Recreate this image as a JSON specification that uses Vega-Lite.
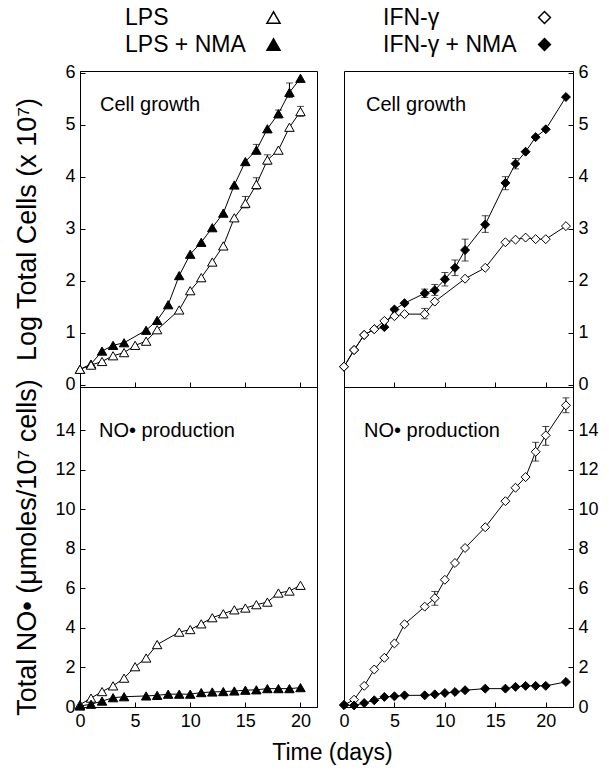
{
  "$schema": "https://vega.github.io/schema/vega-lite/v6.json",
  "padding": {"left": 12, "top": 5, "right": 5, "bottom": 5},
  "config": {
    "font": "Liberation Sans",
    "view": {"stroke": "black", "strokeWidth": 1},
    "axis": {"domainColor": "black", "tickColor": "black", "labelColor": "black", "titleColor": "black", "labelFontSize": 18, "titleFontSize": 27, "titleFontWeight": "normal", "grid": false, "tickWidth": 1, "domainWidth": 1, "tickSize": -5, "labelPadding": 10, "labelOverlap": false, "labelBound": false, "labelFlush": false},
    "title": {"fontSize": 20, "fontWeight": "normal", "color": "black", "anchor": "start", "frame": "group"},
    "legend": {"labelFontSize": 23, "labelColor": "black", "labelLimit": 300}
  },
  "datasets": {
    "pts": [
      {"p": "A", "s": "LPS + NMA", "d": 0, "v": 0.3},
      {"p": "A", "s": "LPS + NMA", "d": 1, "v": 0.4},
      {"p": "A", "s": "LPS + NMA", "d": 2, "v": 0.65},
      {"p": "A", "s": "LPS + NMA", "d": 3, "v": 0.76},
      {"p": "A", "s": "LPS + NMA", "d": 4, "v": 0.81},
      {"p": "A", "s": "LPS + NMA", "d": 6, "v": 1.05},
      {"p": "A", "s": "LPS + NMA", "d": 7, "v": 1.24},
      {"p": "A", "s": "LPS + NMA", "d": 8, "v": 1.54},
      {"p": "A", "s": "LPS + NMA", "d": 9, "v": 2.1},
      {"p": "A", "s": "LPS + NMA", "d": 10, "v": 2.51},
      {"p": "A", "s": "LPS + NMA", "d": 11, "v": 2.74},
      {"p": "A", "s": "LPS + NMA", "d": 12, "v": 3.02},
      {"p": "A", "s": "LPS + NMA", "d": 13, "v": 3.3},
      {"p": "A", "s": "LPS + NMA", "d": 14, "v": 3.84},
      {"p": "A", "s": "LPS + NMA", "d": 15, "v": 4.29},
      {"p": "A", "s": "LPS + NMA", "d": 16, "v": 4.51, "lo": 4.44, "hi": 4.62},
      {"p": "A", "s": "LPS + NMA", "d": 17, "v": 4.92},
      {"p": "A", "s": "LPS + NMA", "d": 18, "v": 5.21, "lo": 5.13, "hi": 5.28},
      {"p": "A", "s": "LPS + NMA", "d": 19, "v": 5.62, "lo": 5.52, "hi": 5.8},
      {"p": "A", "s": "LPS + NMA", "d": 20, "v": 5.89},
      {"p": "A", "s": "LPS", "d": 0, "v": 0.3},
      {"p": "A", "s": "LPS", "d": 1, "v": 0.38},
      {"p": "A", "s": "LPS", "d": 2, "v": 0.45},
      {"p": "A", "s": "LPS", "d": 3, "v": 0.56},
      {"p": "A", "s": "LPS", "d": 4, "v": 0.62},
      {"p": "A", "s": "LPS", "d": 5, "v": 0.76},
      {"p": "A", "s": "LPS", "d": 6, "v": 0.84},
      {"p": "A", "s": "LPS", "d": 7, "v": 1.06},
      {"p": "A", "s": "LPS", "d": 9, "v": 1.44},
      {"p": "A", "s": "LPS", "d": 10, "v": 1.81},
      {"p": "A", "s": "LPS", "d": 11, "v": 2.06},
      {"p": "A", "s": "LPS", "d": 12, "v": 2.36},
      {"p": "A", "s": "LPS", "d": 13, "v": 2.67},
      {"p": "A", "s": "LPS", "d": 14, "v": 3.21},
      {"p": "A", "s": "LPS", "d": 15, "v": 3.49, "lo": 3.4, "hi": 3.62},
      {"p": "A", "s": "LPS", "d": 16, "v": 3.85, "lo": 3.76, "hi": 3.98},
      {"p": "A", "s": "LPS", "d": 17, "v": 4.32, "lo": 4.24, "hi": 4.42},
      {"p": "A", "s": "LPS", "d": 18, "v": 4.51},
      {"p": "A", "s": "LPS", "d": 19, "v": 4.95},
      {"p": "A", "s": "LPS", "d": 20, "v": 5.25, "lo": 5.16, "hi": 5.35},

      {"p": "B", "s": "IFN-γ + NMA", "d": 0, "v": 0.35},
      {"p": "B", "s": "IFN-γ + NMA", "d": 1, "v": 0.67},
      {"p": "B", "s": "IFN-γ + NMA", "d": 2, "v": 0.96},
      {"p": "B", "s": "IFN-γ + NMA", "d": 3, "v": 1.07},
      {"p": "B", "s": "IFN-γ + NMA", "d": 4, "v": 1.11},
      {"p": "B", "s": "IFN-γ + NMA", "d": 5, "v": 1.45},
      {"p": "B", "s": "IFN-γ + NMA", "d": 6, "v": 1.57},
      {"p": "B", "s": "IFN-γ + NMA", "d": 8, "v": 1.76, "lo": 1.68, "hi": 1.84},
      {"p": "B", "s": "IFN-γ + NMA", "d": 9, "v": 1.82, "lo": 1.72, "hi": 1.93},
      {"p": "B", "s": "IFN-γ + NMA", "d": 10, "v": 2.03, "lo": 1.9, "hi": 2.16},
      {"p": "B", "s": "IFN-γ + NMA", "d": 11, "v": 2.25, "lo": 2.1, "hi": 2.4},
      {"p": "B", "s": "IFN-γ + NMA", "d": 12, "v": 2.59, "lo": 2.38, "hi": 2.8},
      {"p": "B", "s": "IFN-γ + NMA", "d": 14, "v": 3.08, "lo": 2.93, "hi": 3.25},
      {"p": "B", "s": "IFN-γ + NMA", "d": 16, "v": 3.88, "lo": 3.75, "hi": 4.0},
      {"p": "B", "s": "IFN-γ + NMA", "d": 17, "v": 4.25, "lo": 4.15, "hi": 4.35},
      {"p": "B", "s": "IFN-γ + NMA", "d": 18, "v": 4.48},
      {"p": "B", "s": "IFN-γ + NMA", "d": 19, "v": 4.76},
      {"p": "B", "s": "IFN-γ + NMA", "d": 20, "v": 4.91},
      {"p": "B", "s": "IFN-γ + NMA", "d": 22, "v": 5.53},
      {"p": "B", "s": "IFN-γ", "d": 0, "v": 0.35},
      {"p": "B", "s": "IFN-γ", "d": 1, "v": 0.67},
      {"p": "B", "s": "IFN-γ", "d": 2, "v": 0.96},
      {"p": "B", "s": "IFN-γ", "d": 3, "v": 1.07},
      {"p": "B", "s": "IFN-γ", "d": 4, "v": 1.23},
      {"p": "B", "s": "IFN-γ", "d": 5, "v": 1.32},
      {"p": "B", "s": "IFN-γ", "d": 6, "v": 1.36},
      {"p": "B", "s": "IFN-γ", "d": 8, "v": 1.36, "lo": 1.27, "hi": 1.47},
      {"p": "B", "s": "IFN-γ", "d": 9, "v": 1.6},
      {"p": "B", "s": "IFN-γ", "d": 12, "v": 2.04},
      {"p": "B", "s": "IFN-γ", "d": 14, "v": 2.25},
      {"p": "B", "s": "IFN-γ", "d": 16, "v": 2.74},
      {"p": "B", "s": "IFN-γ", "d": 17, "v": 2.79},
      {"p": "B", "s": "IFN-γ", "d": 18, "v": 2.83},
      {"p": "B", "s": "IFN-γ", "d": 19, "v": 2.8},
      {"p": "B", "s": "IFN-γ", "d": 20, "v": 2.8},
      {"p": "B", "s": "IFN-γ", "d": 22, "v": 3.05},

      {"p": "C", "s": "LPS", "d": 0, "v": 0.12},
      {"p": "C", "s": "LPS", "d": 1, "v": 0.45},
      {"p": "C", "s": "LPS", "d": 2, "v": 0.78},
      {"p": "C", "s": "LPS", "d": 3, "v": 1.07},
      {"p": "C", "s": "LPS", "d": 4, "v": 1.46},
      {"p": "C", "s": "LPS", "d": 5, "v": 2.04},
      {"p": "C", "s": "LPS", "d": 6, "v": 2.48},
      {"p": "C", "s": "LPS", "d": 7, "v": 3.16},
      {"p": "C", "s": "LPS", "d": 9, "v": 3.79},
      {"p": "C", "s": "LPS", "d": 10, "v": 3.92},
      {"p": "C", "s": "LPS", "d": 11, "v": 4.21},
      {"p": "C", "s": "LPS", "d": 12, "v": 4.52},
      {"p": "C", "s": "LPS", "d": 13, "v": 4.72},
      {"p": "C", "s": "LPS", "d": 14, "v": 4.92},
      {"p": "C", "s": "LPS", "d": 15, "v": 5.01},
      {"p": "C", "s": "LPS", "d": 16, "v": 5.18},
      {"p": "C", "s": "LPS", "d": 17, "v": 5.31},
      {"p": "C", "s": "LPS", "d": 18, "v": 5.77},
      {"p": "C", "s": "LPS", "d": 19, "v": 5.87},
      {"p": "C", "s": "LPS", "d": 20, "v": 6.16},
      {"p": "C", "s": "LPS + NMA", "d": 0, "v": 0.05},
      {"p": "C", "s": "LPS + NMA", "d": 1, "v": 0.14},
      {"p": "C", "s": "LPS + NMA", "d": 2, "v": 0.3},
      {"p": "C", "s": "LPS + NMA", "d": 3, "v": 0.47},
      {"p": "C", "s": "LPS + NMA", "d": 4, "v": 0.52},
      {"p": "C", "s": "LPS + NMA", "d": 6, "v": 0.56},
      {"p": "C", "s": "LPS + NMA", "d": 7, "v": 0.59},
      {"p": "C", "s": "LPS + NMA", "d": 8, "v": 0.65},
      {"p": "C", "s": "LPS + NMA", "d": 9, "v": 0.65},
      {"p": "C", "s": "LPS + NMA", "d": 10, "v": 0.65},
      {"p": "C", "s": "LPS + NMA", "d": 11, "v": 0.73},
      {"p": "C", "s": "LPS + NMA", "d": 12, "v": 0.76},
      {"p": "C", "s": "LPS + NMA", "d": 13, "v": 0.78},
      {"p": "C", "s": "LPS + NMA", "d": 14, "v": 0.81},
      {"p": "C", "s": "LPS + NMA", "d": 15, "v": 0.85},
      {"p": "C", "s": "LPS + NMA", "d": 16, "v": 0.87},
      {"p": "C", "s": "LPS + NMA", "d": 17, "v": 0.93},
      {"p": "C", "s": "LPS + NMA", "d": 18, "v": 0.93},
      {"p": "C", "s": "LPS + NMA", "d": 19, "v": 0.93},
      {"p": "C", "s": "LPS + NMA", "d": 20, "v": 0.98},

      {"p": "D", "s": "IFN-γ", "d": 0, "v": 0.1},
      {"p": "D", "s": "IFN-γ", "d": 1, "v": 0.37},
      {"p": "D", "s": "IFN-γ", "d": 2, "v": 1.07},
      {"p": "D", "s": "IFN-γ", "d": 3, "v": 1.9},
      {"p": "D", "s": "IFN-γ", "d": 4, "v": 2.49},
      {"p": "D", "s": "IFN-γ", "d": 5, "v": 3.22},
      {"p": "D", "s": "IFN-γ", "d": 6, "v": 4.19},
      {"p": "D", "s": "IFN-γ", "d": 8, "v": 5.08},
      {"p": "D", "s": "IFN-γ", "d": 9, "v": 5.51, "lo": 5.15, "hi": 5.85},
      {"p": "D", "s": "IFN-γ", "d": 10, "v": 6.44},
      {"p": "D", "s": "IFN-γ", "d": 11, "v": 7.29},
      {"p": "D", "s": "IFN-γ", "d": 12, "v": 8.05},
      {"p": "D", "s": "IFN-γ", "d": 14, "v": 9.1},
      {"p": "D", "s": "IFN-γ", "d": 16, "v": 10.42},
      {"p": "D", "s": "IFN-γ", "d": 17, "v": 11.1},
      {"p": "D", "s": "IFN-γ", "d": 18, "v": 11.64},
      {"p": "D", "s": "IFN-γ", "d": 19, "v": 12.92, "lo": 12.45, "hi": 13.4},
      {"p": "D", "s": "IFN-γ", "d": 20, "v": 13.75, "lo": 13.25, "hi": 14.2},
      {"p": "D", "s": "IFN-γ", "d": 22, "v": 15.27, "lo": 14.9, "hi": 15.65},
      {"p": "D", "s": "IFN-γ + NMA", "d": 0, "v": 0.1},
      {"p": "D", "s": "IFN-γ + NMA", "d": 1, "v": 0.08},
      {"p": "D", "s": "IFN-γ + NMA", "d": 2, "v": 0.2},
      {"p": "D", "s": "IFN-γ + NMA", "d": 3, "v": 0.34},
      {"p": "D", "s": "IFN-γ + NMA", "d": 4, "v": 0.51},
      {"p": "D", "s": "IFN-γ + NMA", "d": 5, "v": 0.54},
      {"p": "D", "s": "IFN-γ + NMA", "d": 6, "v": 0.59},
      {"p": "D", "s": "IFN-γ + NMA", "d": 8, "v": 0.59},
      {"p": "D", "s": "IFN-γ + NMA", "d": 9, "v": 0.64},
      {"p": "D", "s": "IFN-γ + NMA", "d": 10, "v": 0.71},
      {"p": "D", "s": "IFN-γ + NMA", "d": 11, "v": 0.76},
      {"p": "D", "s": "IFN-γ + NMA", "d": 12, "v": 0.85},
      {"p": "D", "s": "IFN-γ + NMA", "d": 14, "v": 0.93},
      {"p": "D", "s": "IFN-γ + NMA", "d": 16, "v": 0.93},
      {"p": "D", "s": "IFN-γ + NMA", "d": 17, "v": 1.02},
      {"p": "D", "s": "IFN-γ + NMA", "d": 18, "v": 1.07},
      {"p": "D", "s": "IFN-γ + NMA", "d": 19, "v": 1.07},
      {"p": "D", "s": "IFN-γ + NMA", "d": 20, "v": 1.07},
      {"p": "D", "s": "IFN-γ + NMA", "d": 22, "v": 1.27}
    ]
  },
  "columns": 2,
  "spacing": {"row": 0, "column": 27},
  "bounds": "flush",
  "resolve": {
    "scale": {"shape": "independent", "fill": "independent"},
    "legend": {"shape": "independent", "fill": "independent"}
  },
  "concat": [
    {
      "width": 237, "height": 316,
      "data": {"name": "pts"},
      "transform": [{"filter": "datum.p === 'A'"}],
      "title": {"text": "Cell growth", "offset": -109, "dx": 20},
      "encoding": {
        "x": {"field": "d", "type": "quantitative", "scale": {"domain": [0, 21.5], "nice": false, "zero": false},
              "axis": {"values": [0, 5, 10, 15, 20], "labels": false, "title": null}},
        "y": {"field": "v", "type": "quantitative", "scale": {"domain": [-0.04, 6.03], "nice": false, "zero": false},
              "title": "Log Total Cells (x 10⁷)",
              "axis": {"values": [0, 1, 2, 3, 4, 5, 6], "titleX": -53, "titleBaseline": "middle"}}
      },
      "layer": [
        {"mark": {"type": "line", "color": "black", "strokeWidth": 1}, "encoding": {"detail": {"field": "s"}}},
        {"transform": [{"filter": "isValid(datum.lo)"}], "mark": {"type": "rule", "color": "black", "strokeWidth": 1},
         "encoding": {"y": {"field": "lo", "type": "quantitative", "title": "Log Total Cells (x 10⁷)"}, "y2": {"field": "hi"}}},
        {"transform": [{"filter": "isValid(datum.lo)"}], "mark": {"type": "tick", "orient": "horizontal", "size": 7, "thickness": 1, "color": "black"},
         "encoding": {"y": {"field": "lo", "type": "quantitative", "title": "Log Total Cells (x 10⁷)"}}},
        {"transform": [{"filter": "isValid(datum.lo)"}], "mark": {"type": "tick", "orient": "horizontal", "size": 7, "thickness": 1, "color": "black"},
         "encoding": {"y": {"field": "hi", "type": "quantitative", "title": "Log Total Cells (x 10⁷)"}}},
        {"mark": {"type": "point", "filled": true, "size": 90, "stroke": "black", "strokeWidth": 1, "opacity": 1},
         "encoding": {
           "shape": {"field": "s", "type": "nominal", "scale": {"domain": ["LPS", "LPS + NMA"], "range": ["triangle-up", "triangle-up"]},
                     "legend": {"orient": "none", "legendX": 182, "legendY": -65, "title": null, "labelOffset": -160, "symbolSize": 170, "rowPadding": 3, "padding": 0,
                                "encode": {"symbols": {"update": {"stroke": {"value": "black"}, "strokeWidth": {"value": 1}, "opacity": {"value": 1}}}}}},
           "fill": {"field": "s", "type": "nominal", "scale": {"domain": ["LPS", "LPS + NMA"], "range": ["white", "black"]},
                    "legend": {"orient": "none", "legendX": 182, "legendY": -65, "title": null, "labelOffset": -160, "symbolSize": 170, "rowPadding": 3, "padding": 0,
                               "encode": {"symbols": {"update": {"stroke": {"value": "black"}, "strokeWidth": {"value": 1}, "opacity": {"value": 1}}}}}}
         }}
      ]
    },
    {
      "width": 229, "height": 316,
      "data": {"name": "pts"},
      "transform": [{"filter": "datum.p === 'B'"}],
      "title": {"text": "Cell growth", "offset": -109, "dx": 22},
      "encoding": {
        "x": {"field": "d", "type": "quantitative", "scale": {"domain": [0, 22.7], "nice": false, "zero": false},
              "axis": {"values": [0, 5, 10, 15, 20], "labels": false, "title": null}},
        "y": {"field": "v", "type": "quantitative", "scale": {"domain": [-0.04, 6.03], "nice": false, "zero": false},
              "title": null,
              "axis": {"orient": "right", "values": [0, 1, 2, 3, 4, 5, 6]}}
      },
      "layer": [
        {"mark": {"type": "line", "color": "black", "strokeWidth": 1}, "encoding": {"detail": {"field": "s"}}},
        {"transform": [{"filter": "isValid(datum.lo)"}], "mark": {"type": "rule", "color": "black", "strokeWidth": 1},
         "encoding": {"y": {"field": "lo", "type": "quantitative", "title": null}, "y2": {"field": "hi"}}},
        {"transform": [{"filter": "isValid(datum.lo)"}], "mark": {"type": "tick", "orient": "horizontal", "size": 7, "thickness": 1, "color": "black"},
         "encoding": {"y": {"field": "lo", "type": "quantitative", "title": null}}},
        {"transform": [{"filter": "isValid(datum.lo)"}], "mark": {"type": "tick", "orient": "horizontal", "size": 7, "thickness": 1, "color": "black"},
         "encoding": {"y": {"field": "hi", "type": "quantitative", "title": null}}},
        {"mark": {"type": "point", "filled": true, "size": 80, "stroke": "black", "strokeWidth": 1, "opacity": 1},
         "encoding": {
           "shape": {"field": "s", "type": "nominal", "scale": {"domain": ["IFN-γ", "IFN-γ + NMA"], "range": ["diamond", "diamond"]},
                     "legend": {"orient": "none", "legendX": 189, "legendY": -65, "title": null, "labelOffset": -173, "symbolSize": 140, "rowPadding": 3, "padding": 0,
                                "encode": {"symbols": {"update": {"stroke": {"value": "black"}, "strokeWidth": {"value": 1}, "opacity": {"value": 1}}}}}},
           "fill": {"field": "s", "type": "nominal", "scale": {"domain": ["IFN-γ", "IFN-γ + NMA"], "range": ["white", "black"]},
                    "legend": {"orient": "none", "legendX": 189, "legendY": -65, "title": null, "labelOffset": -173, "symbolSize": 140, "rowPadding": 3, "padding": 0,
                               "encode": {"symbols": {"update": {"stroke": {"value": "black"}, "strokeWidth": {"value": 1}, "opacity": {"value": 1}}}}}}
         }}
      ]
    },
    {
      "width": 237, "height": 320,
      "data": {"name": "pts"},
      "transform": [{"filter": "datum.p === 'C'"}],
      "title": {"text": "NO• production", "offset": -62, "dx": 19},
      "encoding": {
        "x": {"field": "d", "type": "quantitative", "scale": {"domain": [0, 21.5], "nice": false, "zero": false},
              "axis": {"values": [0, 5, 10, 15, 20], "title": "Time (days)", "titleFontSize": 23, "titleX": 252, "titleY": 45, "titleBaseline": "middle"}},
        "y": {"field": "v", "type": "quantitative", "scale": {"domain": [0, 16.2], "nice": false},
              "title": "Total NO• (μmoles/10⁷ cells)",
              "axis": {"values": [0, 2, 4, 6, 8, 10, 12, 14], "titleX": -53, "titleBaseline": "middle"}}
      },
      "layer": [
        {"mark": {"type": "line", "color": "black", "strokeWidth": 1}, "encoding": {"detail": {"field": "s"}}},
        {"mark": {"type": "point", "filled": true, "size": 90, "stroke": "black", "strokeWidth": 1, "opacity": 1},
         "encoding": {
           "shape": {"field": "s", "type": "nominal", "scale": {"domain": ["LPS", "LPS + NMA"], "range": ["triangle-up", "triangle-up"]}, "legend": null},
           "fill": {"field": "s", "type": "nominal", "scale": {"domain": ["LPS", "LPS + NMA"], "range": ["white", "black"]}, "legend": null}
         }}
      ]
    },
    {
      "width": 229, "height": 320,
      "data": {"name": "pts"},
      "transform": [{"filter": "datum.p === 'D'"}],
      "title": {"text": "NO• production", "offset": -54, "dx": 20},
      "encoding": {
        "x": {"field": "d", "type": "quantitative", "scale": {"domain": [0, 22.7], "nice": false, "zero": false},
              "axis": {"values": [0, 5, 10, 15, 20], "title": null}},
        "y": {"field": "v", "type": "quantitative", "scale": {"domain": [0, 16.2], "nice": false},
              "title": null,
              "axis": {"orient": "right", "values": [0, 2, 4, 6, 8, 10, 12, 14]}}
      },
      "layer": [
        {"mark": {"type": "line", "color": "black", "strokeWidth": 1}, "encoding": {"detail": {"field": "s"}}},
        {"transform": [{"filter": "isValid(datum.lo)"}], "mark": {"type": "rule", "color": "black", "strokeWidth": 1},
         "encoding": {"y": {"field": "lo", "type": "quantitative", "title": null}, "y2": {"field": "hi"}}},
        {"transform": [{"filter": "isValid(datum.lo)"}], "mark": {"type": "tick", "orient": "horizontal", "size": 7, "thickness": 1, "color": "black"},
         "encoding": {"y": {"field": "lo", "type": "quantitative", "title": null}}},
        {"transform": [{"filter": "isValid(datum.lo)"}], "mark": {"type": "tick", "orient": "horizontal", "size": 7, "thickness": 1, "color": "black"},
         "encoding": {"y": {"field": "hi", "type": "quantitative", "title": null}}},
        {"mark": {"type": "point", "filled": true, "size": 80, "stroke": "black", "strokeWidth": 1, "opacity": 1},
         "encoding": {
           "shape": {"field": "s", "type": "nominal", "scale": {"domain": ["IFN-γ", "IFN-γ + NMA"], "range": ["diamond", "diamond"]}, "legend": null},
           "fill": {"field": "s", "type": "nominal", "scale": {"domain": ["IFN-γ", "IFN-γ + NMA"], "range": ["white", "black"]}, "legend": null}
         }}
      ]
    }
  ]
}
